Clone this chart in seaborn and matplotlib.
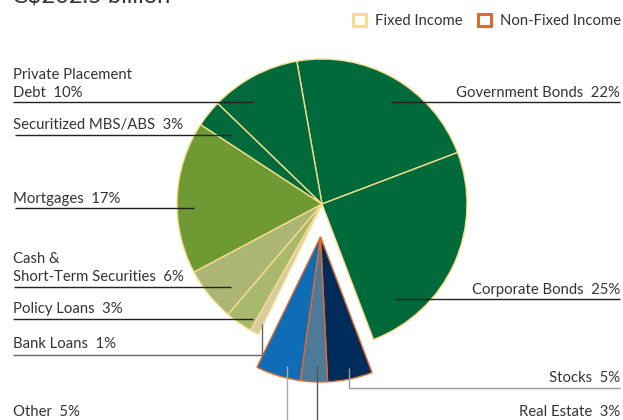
import matplotlib
matplotlib.use("Agg")
import matplotlib.pyplot as plt
from matplotlib.patches import Patch
import numpy as np
import seaborn as sns

# data
categories = ["Government Bonds", "Corporate Bonds", "Stocks", "Real Estate", "Other",
              "Bank Loans", "Policy Loans", "Cash &\nShort-Term Securities", "Mortgages",
              "Securitized MBS/ABS", "Private Placement\nDebt"]
shares = [22, 25, 5, 3, 5, 1, 3, 6, 17, 3, 10]
fixed_income = [True, True, False, False, False, True, True, True, True, True, True]
total_label = "C$202.5 billion"
legend_labels = ["Fixed Income", "Non-Fixed Income"]

colors = ["#006a3b", "#006a3b", "#002c5c", "#4d7a99", "#0f6db7",
          "#d9cba1", "#a8b86d", "#acb674", "#6f9a33", "#006a3b", "#006a3b"]
fixed_edge = "#f8dc8c"
nonfixed_edge = "#e2682b"

sns.set_style("white")
plt.rcParams["font.family"] = ["Lato", "DejaVu Sans"]

W, H = 623, 420
fig = plt.figure(figsize=(W / 100, H / 100), dpi=100)
ax = fig.add_axes([0, 0, 1, 1])

cx, cy, r = 322, H - 204, 145
wedges, _ = ax.pie(shares, colors=colors, startangle=100, counterclock=False,
                   center=(cx, cy), radius=r, frame=True,
                   wedgeprops=dict(linewidth=1.0))
ax.set_xlim(0, W)
ax.set_ylim(0, H)
ax.axis("off")

# pull the non-fixed group out as one piece
nf = [w for w, f in zip(wedges, fixed_income) if not f]
t1 = min(w.theta1 for w in nf)
t2 = max(w.theta2 for w in nf)
mid = np.deg2rad((t1 + t2) / 2)
off = 33
for w, f in zip(wedges, fixed_income):
    if f:
        w.set_edgecolor(fixed_edge)
    else:
        w.set_edgecolor(nonfixed_edge)
        w.set_center((cx + off * np.cos(mid), cy + off * np.sin(mid)))

# labels and leader lines (pixel layout, y from top)
txt_kw = dict(fontsize=10.7, color="#333333", linespacing=1.4)
layout = [
    # text x, text y (bottom), ha, line points, line colour
    (620, 100, "right", [(391, 102), (620, 102)], "#222222"),
    (620, 297, "right", [(395, 299), (620, 299)], "#222222"),
    (620, 385, "right", [(349, 368), (349, 388), (620, 388)], "#999999"),
    (620, 419, "right", [(317, 366), (317, 420)], "#555555"),
    (13, 419, "left", [(287, 366), (287, 420)], "#aaaaaa"),
    (13, 351, "left", [(262, 324), (262, 355), (13, 355)], "#666666"),
    (13, 316, "left", [(13, 319), (253, 319)], "#222222"),
    (13, 284, "left", [(14, 287), (231, 287)], "#222222"),
    (13, 206, "left", [(15, 208), (194, 208)], "#222222"),
    (13, 132, "left", [(15, 135), (231, 135)], "#222222"),
    (13, 100, "left", [(13, 102), (253, 102)], "#222222"),
]
for name, val, (tx, ty, ha, pts, lc) in zip(categories, shares, layout):
    xs = [p[0] for p in pts]
    ys = [H - p[1] for p in pts]
    ax.plot(xs, ys, color=lc, linewidth=1.0, solid_capstyle="butt")
    ax.text(tx, H - ty, f"{name}  {val}%", ha=ha, va="bottom", **txt_kw)

ax.text(12, H - 4, total_label, fontsize=17, color="#333333", va="baseline")

handles = [Patch(facecolor="white", edgecolor=fixed_edge, linewidth=2.2),
           Patch(facecolor="white", edgecolor=nonfixed_edge, linewidth=2.2)]
ax.legend(handles, legend_labels, ncol=2, frameon=False, loc="upper right",
          bbox_to_anchor=(621 / W, 1 - 14 / H), fontsize=10.7, handlelength=0.9,
          handleheight=0.9, handletextpad=0.6, columnspacing=1.0, borderpad=0,
          borderaxespad=0, labelcolor="#333333")

fig.savefig("out.png", dpi=100)
